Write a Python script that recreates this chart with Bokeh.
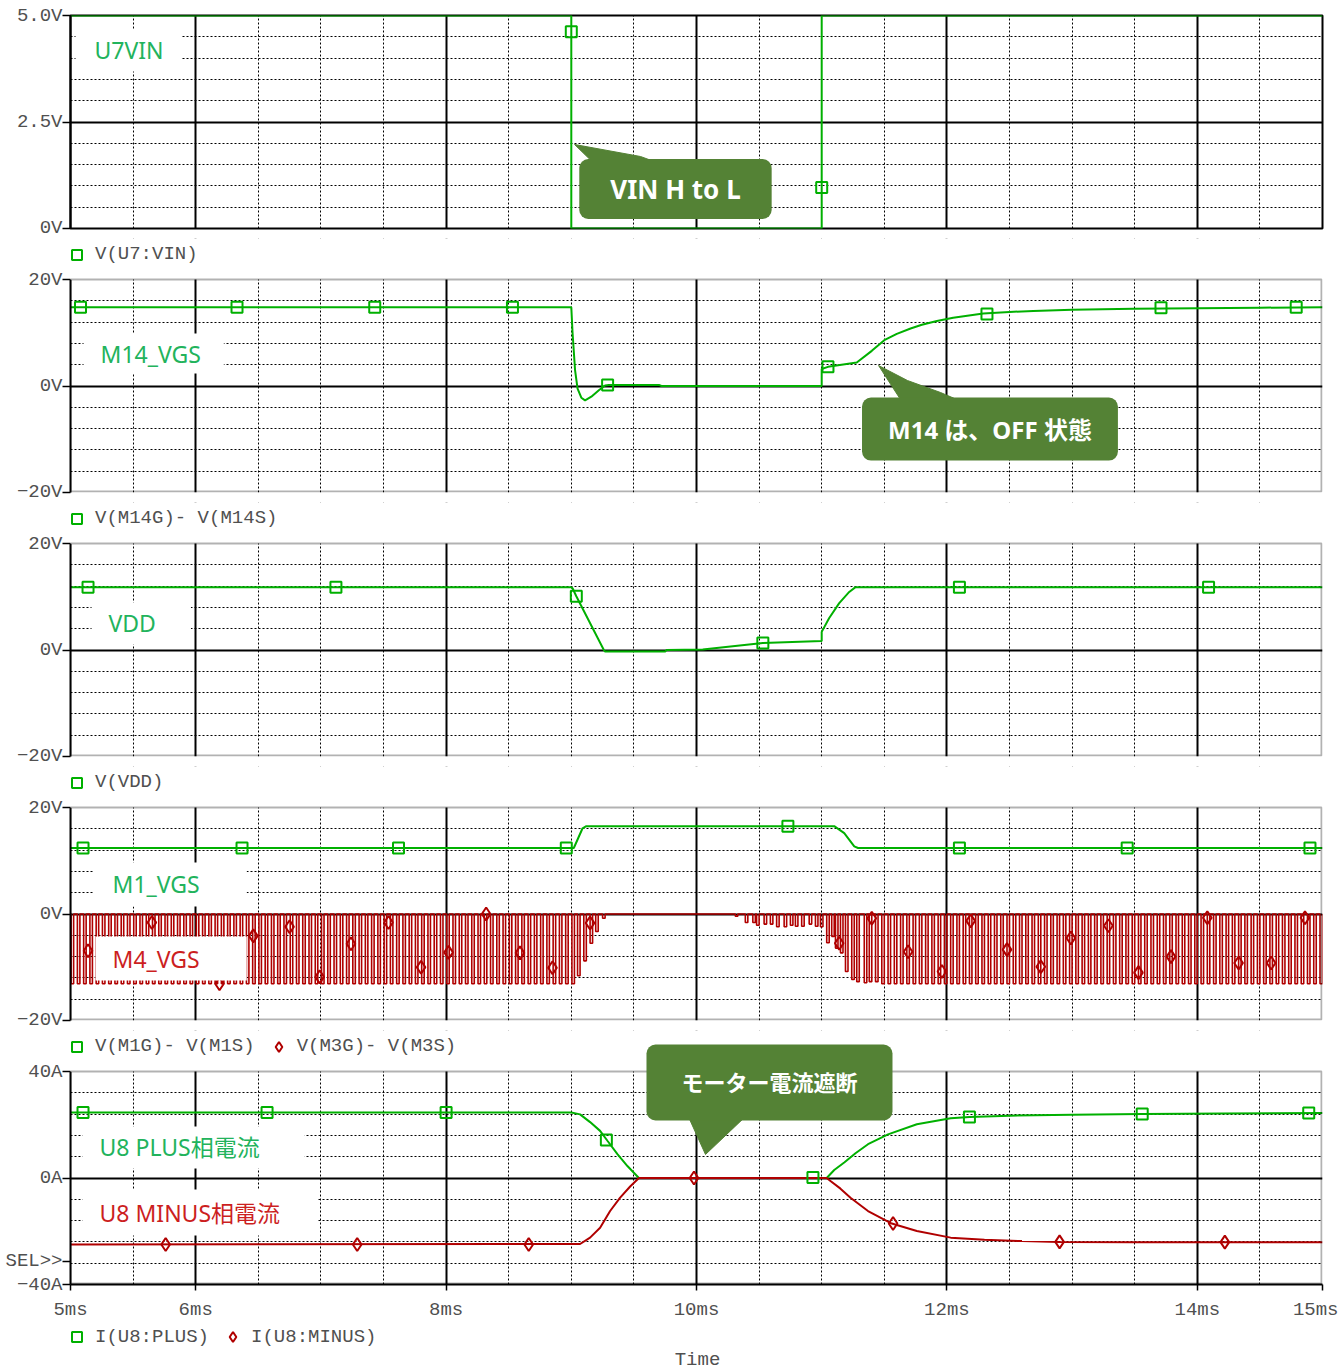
from bokeh.plotting import figure
from bokeh.models import (Range1d, FixedTicker, Grid, Label, Legend, LegendItem,
                          BoxAnnotation)
from bokeh.layouts import column
from bokeh.embed import file_html
from bokeh.resources import INLINE

# ---------------- data ----------------
time_ticks = [5, 6, 8, 10, 12, 14, 15]
time_tick_labels = ["5ms", "6ms", "8ms", "10ms", "12ms", "14ms", "15ms"]

# panel 1 : V(U7:VIN)
vin_t = [5.0, 9.0, 9.0, 11.0, 11.0, 15.0]
vin_v = [5.0, 5.0, 0.0, 0.0, 5.0, 5.0]
vin_mk_t = [9.0, 11.0]
vin_mk_v = [4.62, 0.96]

# panel 2 : V(M14G)-V(M14S)
m14_t = [5.0, 9.0, 9.01, 9.03, 9.05, 9.08, 9.11, 9.16, 9.22, 9.27, 9.30, 9.70, 9.72,
         11.0, 11.0, 11.05, 11.28, 11.40, 11.50, 11.60, 11.71, 11.80, 11.92, 12.05,
         12.29, 12.50, 12.69, 13.0, 13.49, 14.0, 14.5, 15.0]
m14_v = [14.8, 14.8, 10.0, 3.0, -0.5, -2.2, -2.7, -2.0, -0.8, 0.1, 0.2, 0.2, 0.0,
         0.0, 3.2, 3.6, 4.4, 6.6, 8.6, 9.8, 10.8, 11.5, 12.2, 12.8,
         13.6, 13.9, 14.1, 14.3, 14.5, 14.6, 14.7, 14.8]
m14_mk_t = [5.08, 6.33, 7.43, 8.53, 9.29, 11.05, 12.32, 13.71, 14.79]
m14_mk_v = [14.8, 14.8, 14.8, 14.8, 0.2, 3.6, 13.5, 14.7, 14.8]

# panel 3 : V(VDD)
vdd_t = [5.0, 9.0, 9.01, 9.04, 9.26, 9.27, 9.75, 9.76, 10.05, 10.53, 11.0, 11.0,
         11.06, 11.14, 11.22, 11.27, 15.0]
vdd_v = [11.8, 11.8, 11.6, 10.1, 0.0, -0.3, -0.3, 0.0, 0.1, 1.3, 1.7, 3.4,
         6.0, 8.8, 10.9, 11.8, 11.8]
vdd_mk_t = [5.14, 7.12, 9.04, 10.53, 12.10, 14.09]
vdd_mk_v = [11.8, 11.8, 10.1, 1.3, 11.8, 11.8]

# panel 4 : V(M1G)-V(M1S) and V(M3G)-V(M3S)
m1_t = [5.0, 9.02, 9.09, 9.12, 11.10, 11.18, 11.26, 11.29, 15.0]
m1_v = [12.4, 12.4, 16.1, 16.5, 16.5, 15.2, 12.7, 12.4, 12.4]
m1_mk_t = [5.10, 6.37, 7.62, 8.96, 10.73, 12.10, 13.44, 14.90]
m1_mk_v = [12.4, 12.4, 12.4, 12.4, 16.5, 12.4, 12.4, 12.4]

pwm_period_ms = 0.05          # 20 kHz gate pulses
pwm_pulse_width_ms = 0.02
m4_full_depth = -13.1
m4_full_runs = [(5.005, 9.01), (11.48, 15.0)]
m4_tr_t = [9.05, 9.10, 9.15, 9.195, 9.25,
           10.31, 10.39, 10.45, 10.48, 10.54, 10.59, 10.64, 10.70, 10.75, 10.79,
           10.84, 10.90, 10.95, 10.99, 11.04, 11.08, 11.11, 11.15, 11.19, 11.24,
           11.28, 11.34, 11.38, 11.43]
m4_tr_v = [-11.6, -8.8, -5.5, -3.3, -0.8,
           -0.4, -1.6, -1.6, -2.1, -1.9, -1.9, -2.4, -2.4, -2.1, -2.3,
           -2.3, -1.9, -2.3, -2.4, -5.4, -4.2, -6.4, -7.3, -10.8, -12.3,
           -12.7, -12.9, -12.7, -12.7]
m4_mk_t = [5.14, 5.65, 6.19, 6.46, 6.75, 6.99, 7.24, 7.54, 7.80, 8.02, 8.32, 8.59,
           8.85, 9.15, 11.14, 11.40, 11.69, 11.96, 12.19, 12.48, 12.75, 12.99,
           13.29, 13.53, 13.79, 14.08, 14.33, 14.59, 14.86]
m4_mk_v = [-6.9, -1.6, -13.1, -4.1, -2.4, -11.8, -5.6, -1.6, -10.0, -7.2, 0.0, -7.3,
           -10.1, -1.7, -5.5, -0.8, -7.1, -10.8, -1.3, -6.7, -9.9, -4.5,
           -2.2, -11.0, -8.0, -0.7, -9.2, -9.2, -0.7]

# panel 5 : I(U8:PLUS), I(U8:MINUS)
plus_t = [5.0, 9.0, 9.07, 9.15, 9.23, 9.29, 9.37, 9.45, 9.54, 11.04, 11.10, 11.18,
          11.27, 11.37, 11.53, 11.76, 12.03, 12.18, 12.5, 13.0, 13.56, 14.2, 15.0]
plus_v = [24.6, 24.6, 23.9, 21.0, 17.7, 13.9, 8.9, 4.4, 0.0, 0.0, 3.0, 5.8,
          9.3, 12.7, 16.4, 20.2, 22.4, 22.9, 23.4, 23.8, 24.0, 24.2, 24.4]
plus_mk_t = [5.10, 6.57, 8.00, 9.28, 10.93, 12.18, 13.56, 14.89]
plus_mk_v = [24.6, 24.6, 24.6, 14.3, 0.2, 22.9, 24.0, 24.4]
minus_t = [5.0, 9.07, 9.15, 9.23, 9.31, 9.39, 9.47, 9.54, 11.04, 11.07, 11.15, 11.23,
           11.37, 11.56, 11.76, 12.03, 12.3, 12.6, 12.90, 13.5, 14.22, 15.0]
minus_v = [-25.0, -24.8, -22.4, -18.7, -12.4, -7.4, -3.2, 0.0, 0.0, -1.1, -4.0, -7.4,
           -12.4, -17.1, -19.9, -22.4, -23.2, -23.7, -24.0, -24.1, -24.1, -24.1]
minus_mk_t = [5.76, 7.29, 8.66, 9.98, 11.57, 12.90, 14.22]
minus_mk_v = [-25.0, -25.0, -25.0, 0.0, -17.1, -24.0, -24.1]

# ---------------- styling ----------------
GREEN = "#00b000"
RED = "#b00000"
LBL_GREEN = "#22b35c"
LBL_RED = "#cc1f1f"
CALLOUT = "#548235"
AX_TEXT = "#505050"
MONO = "Liberation Mono"
SANS = "'Noto Sans', 'Noto Sans CJK JP'"

FRAME_W = 1252
PANEL_H = 213
STRIP = 41            # gap above a panel that holds the previous panel's legend
LEG_VY = 225.5        # legend offset (px above frame bottom) inside that gap
MARKER_SIZE = {"square": 11, "diamond": 13}

x_grid_solid = [6, 8, 10, 12, 14]
x_grid_dot = [5.5, 6.5, 7, 7.5, 8.5, 9, 9.5, 10.5, 11, 11.5, 12.5, 13, 13.5, 14.5]


def make_panel(y0, y1, ticks, tick_labels, y_solid, y_dot, top, bottom,
               strip=0, show_x=False):
    ppu = PANEL_H / (y1 - y0)
    p = figure(frame_width=FRAME_W, frame_height=PANEL_H + strip,
               x_range=Range1d(5, 15), y_range=Range1d(y0, y1 + strip / ppu),
               output_backend="svg", toolbar_location=None,
               min_border_left=70, min_border_right=16, min_border_top=top,
               min_border_bottom=bottom, x_axis_location="below" if show_x else None,
               background_fill_color="white", border_fill_color="white")
    p.xgrid.visible = False
    p.ygrid.visible = False
    p.add_layout(Grid(dimension=0, ticker=FixedTicker(ticks=x_grid_dot),
                      grid_line_color="black", grid_line_width=1, grid_line_dash="2 2"))
    p.add_layout(Grid(dimension=1, ticker=FixedTicker(ticks=y_dot),
                      grid_line_color="black", grid_line_width=1, grid_line_dash="2 2"))
    p.add_layout(Grid(dimension=0, ticker=FixedTicker(ticks=x_grid_solid),
                      grid_line_color="black", grid_line_width=2))
    p.add_layout(Grid(dimension=1, ticker=FixedTicker(ticks=y_solid),
                      grid_line_color="black", grid_line_width=2))
    ax = p.yaxis[0]
    ax.ticker = FixedTicker(ticks=ticks)
    ax.major_label_overrides = dict(zip(ticks, tick_labels))
    ax.major_tick_out = 8
    ax.major_tick_in = 0
    ax.minor_tick_out = 0
    ax.minor_tick_in = 0
    ax.axis_line_width = 2
    ax.major_tick_line_width = 1.5
    ax.major_label_standoff = 0
    ax.major_label_text_font = MONO
    ax.major_label_text_font_size = "19px"
    ax.major_label_text_color = AX_TEXT
    if strip:
        p.outline_line_color = None
        ax.bounds = (y0, y1)
        p.add_layout(BoxAnnotation(bottom=y1, fill_color="white", fill_alpha=1,
                                   line_color=None))
        p.add_layout(BoxAnnotation(left=5, right=15 - 1 / 125.2, bottom=y0 + 1 / ppu,
                                   top=y1, fill_alpha=0, line_color="black",
                                   line_width=2))
    else:
        p.outline_line_color = "black"
        p.outline_line_width = 2
    if show_x:
        xa = p.xaxis[0]
        xa.ticker = FixedTicker(ticks=time_ticks)
        xa.major_label_overrides = dict(zip(time_ticks, time_tick_labels))
        xa.major_tick_out = 6
        xa.major_tick_in = 0
        xa.minor_tick_out = 0
        xa.minor_tick_in = 0
        xa.axis_line_width = 2
        xa.major_tick_line_width = 1.5
        xa.major_label_standoff = 8
        xa.major_label_text_font = MONO
        xa.major_label_text_font_size = "19px"
        xa.major_label_text_color = AX_TEXT
    return p


def trace(p, t, v, color):
    return p.line(t, v, line_color=color, line_width=2)


def marks(p, t, v, color, marker):
    return p.scatter(t, v, marker=marker, size=MARKER_SIZE[marker], fill_color=None,
                     line_color=color, line_width=2)


def legend_in(p, entries, location, off_x, off_y):
    """entries: (label, colour, marker); stand-in renderers sit outside the view."""
    items = []
    for label, color, marker in entries:
        r = p.scatter([off_x], [off_y], marker=marker, size=11, fill_color=None,
                      line_color=color, line_width=2)
        items.append(LegendItem(label=label, renderers=[r]))
    p.add_layout(Legend(items=items, location=location, orientation="horizontal",
                        glyph_width=25, glyph_height=25, label_height=25,
                        label_standoff=6, spacing=11, padding=0, margin=0,
                        border_line_color=None, background_fill_alpha=0,
                        label_text_font=MONO, label_text_font_size="19px",
                        label_text_color=AX_TEXT))


def name_box(p, x, y, text, color, left, right, vpad):
    p.add_layout(Label(x=x, y=y, text=text, text_color=color, text_font=SANS,
                       text_font_size="23px", text_align="left", text_baseline="middle",
                       background_fill_color="white",
                       padding=dict(left=left, right=right, top=vpad, bottom=vpad)))


def callout(p, x, y, text, size, hpad, vpad):
    p.add_layout(Label(x=x, y=y, text=text, text_color="white", text_font=SANS,
                       text_font_style="bold", text_font_size=size, text_align="center",
                       text_baseline="middle", background_fill_color=CALLOUT,
                       border_radius=9,
                       padding=dict(left=hpad, right=hpad, top=vpad, bottom=vpad)))


yd = [-16, -12, -8, -4, 4, 8, 12, 16]

# ---------------- panel 1 ----------------
p1 = make_panel(0, 5, [0, 2.5, 5], ["0V", "2.5V", "5.0V"], [2.5],
                [0.5, 1, 1.5, 2, 3, 3.5, 4, 4.5], 15, 10)
trace(p1, vin_t, vin_v, GREEN)
marks(p1, vin_mk_t, vin_mk_v, GREEN, "square")
name_box(p1, 5.040, 4.18, "U7VIN", LBL_GREEN, 19, 18, 5)
p1.patch([9.026, 9.553, 9.776, 9.209], [1.972, 1.690, 1.45, 1.45], color=CALLOUT)
callout(p1, 9.832, 0.927, "VIN H to L", "26px", 31, 12)

# ---------------- panel 2 ----------------
p2 = make_panel(-20, 20, [-20, 0, 20], ["\u221220V", "0V", "20V"], [0], yd, 0, 10,
                strip=STRIP)
legend_in(p2, [("V(U7:VIN)", GREEN, "square")], (-6, LEG_VY), 3.0, 0.0)
trace(p2, m14_t, m14_v, GREEN)
marks(p2, m14_mk_t, m14_mk_v, GREEN, "square")
name_box(p2, 5.104, 6.10, "M14_VGS", LBL_GREEN, 17, 23, 4)
p2.patch([11.454, 11.685, 11.949, 12.165, 11.653], [3.85, 1.03, -1.22, -3.4, -3.4],
         color=CALLOUT)
callout(p2, 12.344, -8.08, "M14 は、OFF 状態", "24px", 26, 15)

# ---------------- panel 3 ----------------
p3 = make_panel(-20, 20, [-20, 0, 20], ["\u221220V", "0V", "20V"], [0], yd, 0, 10,
                strip=STRIP)
legend_in(p3, [("V(M14G)- V(M14S)", GREEN, "square")], (-6, LEG_VY), 3.0, 0.0)
trace(p3, vdd_t, vdd_v, GREEN)
marks(p3, vdd_mk_t, vdd_mk_v, GREEN, "square")
name_box(p3, 5.168, 4.98, "VDD", LBL_GREEN, 17, 35, 5)

# ---------------- panel 4 ----------------
p4 = make_panel(-20, 20, [-20, 0, 20], ["\u221220V", "0V", "20V"], [0], yd, 0, 10,
                strip=STRIP)
legend_in(p4, [("V(VDD)", GREEN, "square")], (-6, LEG_VY), 3.0, 0.0)
trace(p4, m1_t, m1_v, GREEN)
marks(p4, m1_mk_t, m1_mk_v, GREEN, "square")
events = []
for a, b in m4_full_runs:
    t = a
    while t < b - 1e-9:
        events.append((t, m4_full_depth))
        t += pwm_period_ms
events += list(zip(m4_tr_t, m4_tr_v))
events.sort()
m4_x, m4_y = [5.0], [0.0]
for t, d in events:
    m4_x += [t, t, t + pwm_pulse_width_ms, t + pwm_pulse_width_ms]
    m4_y += [0.0, d, d, 0.0]
m4_x.append(15.0)
m4_y.append(0.0)
p4.line(m4_x, m4_y, line_color=RED, line_width=1.6)
marks(p4, m4_mk_t, m4_mk_v, RED, "diamond")
name_box(p4, 5.184, 5.54, "M1_VGS", LBL_GREEN, 19, 47, 6)
name_box(p4, 5.200, -8.36, "M4_VGS", LBL_RED, 17, 47, 6)

# ---------------- panel 5 ----------------
p5 = make_panel(-40, 40, [-40, -31.2, 0, 40], ["\u221240A", "SEL>>", "0A", "40A"],
                [0], [-32, -24, -16, -8, 8, 16, 24, 32], 0, 40, strip=STRIP,
                show_x=True)
legend_in(p5, [("V(M1G)- V(M1S)", GREEN, "square"), ("V(M3G)- V(M3S)", RED, "diamond")],
          (-6, LEG_VY), 3.0, 0.0)
trace(p5, plus_t, plus_v, GREEN)
trace(p5, minus_t, minus_v, RED)
marks(p5, plus_mk_t, plus_mk_v, GREEN, "square")
marks(p5, minus_mk_t, minus_mk_v, RED, "diamond")
name_box(p5, 5.096, 11.46, "U8 PLUS相電流", LBL_GREEN, 17, 45, 5)
name_box(p5, 5.096, -12.96, "U8 MINUS相電流", LBL_RED, 17, 37, 7)
p5.patch([9.928, 10.407, 10.072], [23.8, 23.8, 8.83], color=CALLOUT)
callout(p5, 10.583, 35.87, "モーター電流遮断", "22px", 35, 23)

# ---------------- footer : legend of panel 5 and the axis title ----------------
p6 = figure(frame_width=1338, frame_height=46, x_range=Range1d(0, 1338),
            y_range=Range1d(0, 46), output_backend="svg", toolbar_location=None,
            min_border=0, x_axis_location=None, y_axis_location=None,
            background_fill_color="white", border_fill_color="white")
p6.grid.visible = False
p6.outline_line_color = None
legend_in(p6, [("I(U8:PLUS)", GREEN, "square"), ("I(U8:MINUS)", RED, "diamond")],
          (64, 21), -500.0, -500.0)
p6.add_layout(Label(x=627, x_units="screen", y=11, text="Time", text_align="center",
                    text_baseline="middle", text_font=MONO, text_font_size="19px",
                    text_color=AX_TEXT))

layout = column(p1, p2, p3, p4, p5, p6, spacing=0)
open("out.html", "w").write(file_html(layout, INLINE))
